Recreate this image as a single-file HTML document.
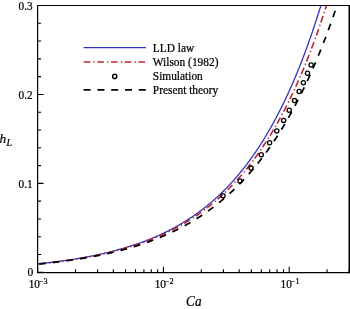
<!DOCTYPE html>
<html><head><meta charset="utf-8"><style>html,body{margin:0;padding:0;background:#fff;overflow:hidden}svg{display:block;will-change:transform}</style></head>
<body><svg width="350" height="309" viewBox="0 0 350 309">
<rect width="350" height="309" fill="#fff"/>
<g fill="none" stroke-linecap="butt">
<path d="M37.60,263.89 L38.38,263.81 L39.16,263.73 L39.94,263.64 L40.72,263.56 L41.50,263.48 L42.27,263.39 L43.05,263.31 L43.83,263.22 L44.61,263.14 L45.39,263.05 L46.17,262.96 L46.95,262.87 L47.73,262.78 L48.51,262.69 L49.29,262.60 L50.06,262.50 L50.84,262.41 L51.62,262.32 L52.40,262.22 L53.18,262.13 L53.96,262.03 L54.74,261.93 L55.52,261.83 L56.30,261.73 L57.08,261.63 L57.86,261.53 L58.63,261.43 L59.41,261.32 L60.19,261.22 L60.97,261.11 L61.75,261.00 L62.53,260.90 L63.31,260.79 L64.09,260.68 L64.87,260.57 L65.65,260.45 L66.43,260.34 L67.20,260.23 L67.98,260.11 L68.76,259.99 L69.54,259.88 L70.32,259.76 L71.10,259.64 L71.88,259.52 L72.66,259.40 L73.44,259.27 L74.22,259.15 L74.99,259.02 L75.77,258.90 L76.55,258.77 L77.33,258.64 L78.11,258.51 L78.89,258.38 L79.67,258.24 L80.45,258.11 L81.23,257.97 L82.01,257.84 L82.79,257.70 L83.56,257.56 L84.34,257.42 L85.12,257.28 L85.90,257.13 L86.68,256.99 L87.46,256.84 L88.24,256.69 L89.02,256.54 L89.80,256.39 L90.58,256.24 L91.35,256.09 L92.13,255.93 L92.91,255.78 L93.69,255.62 L94.47,255.46 L95.25,255.30 L96.03,255.14 L96.81,254.97 L97.59,254.81 L98.37,254.64 L99.15,254.47 L99.92,254.30 L100.70,254.13 L101.48,253.96 L102.26,253.78 L103.04,253.60 L103.82,253.43 L104.60,253.24 L105.38,253.06 L106.16,252.88 L106.94,252.69 L107.71,252.51 L108.49,252.32 L109.27,252.13 L110.05,251.93 L110.83,251.74 L111.61,251.54 L112.39,251.34 L113.17,251.14 L113.95,250.94 L114.73,250.74 L115.51,250.53 L116.28,250.32 L117.06,250.11 L117.84,249.90 L118.62,249.69 L119.40,249.47 L120.18,249.25 L120.96,249.03 L121.74,248.81 L122.52,248.59 L123.30,248.36 L124.08,248.13 L124.85,247.90 L125.63,247.67 L126.41,247.43 L127.19,247.20 L127.97,246.96 L128.75,246.71 L129.53,246.47 L130.31,246.22 L131.09,245.97 L131.87,245.72 L132.64,245.47 L133.42,245.21 L134.20,244.95 L134.98,244.69 L135.76,244.43 L136.54,244.16 L137.32,243.89 L138.10,243.62 L138.88,243.35 L139.66,243.07 L140.44,242.79 L141.21,242.51 L141.99,242.23 L142.77,241.94 L143.55,241.65 L144.33,241.36 L145.11,241.06 L145.89,240.76 L146.67,240.46 L147.45,240.16 L148.23,239.85 L149.00,239.54 L149.78,239.23 L150.56,238.91 L151.34,238.59 L152.12,238.27 L152.90,237.95 L153.68,237.62 L154.46,237.29 L155.24,236.95 L156.02,236.61 L156.80,236.27 L157.57,235.93 L158.35,235.58 L159.13,235.23 L159.91,234.88 L160.69,234.52 L161.47,234.16 L162.25,233.79 L163.03,233.43 L163.81,233.06 L164.59,232.68 L165.36,232.30 L166.14,231.92 L166.92,231.53 L167.70,231.15 L168.48,230.75 L169.26,230.36 L170.04,229.95 L170.82,229.55 L171.60,229.14 L172.38,228.73 L173.16,228.31 L173.93,227.89 L174.71,227.47 L175.49,227.04 L176.27,226.61 L177.05,226.17 L177.83,225.73 L178.61,225.29 L179.39,224.84 L180.17,224.38 L180.95,223.93 L181.73,223.46 L182.50,223.00 L183.28,222.53 L184.06,222.05 L184.84,221.57 L185.62,221.09 L186.40,220.60 L187.18,220.10 L187.96,219.61 L188.74,219.10 L189.52,218.59 L190.29,218.08 L191.07,217.56 L191.85,217.04 L192.63,216.51 L193.41,215.98 L194.19,215.44 L194.97,214.90 L195.75,214.35 L196.53,213.80 L197.31,213.24 L198.09,212.67 L198.86,212.10 L199.64,211.53 L200.42,210.95 L201.20,210.36 L201.98,209.77 L202.76,209.17 L203.54,208.57 L204.32,207.96 L205.10,207.35 L205.88,206.73 L206.65,206.10 L207.43,205.47 L208.21,204.83 L208.99,204.19 L209.77,203.54 L210.55,202.88 L211.33,202.22 L212.11,201.55 L212.89,200.87 L213.67,200.19 L214.45,199.50 L215.22,198.80 L216.00,198.10 L216.78,197.39 L217.56,196.68 L218.34,195.96 L219.12,195.23 L219.90,194.49 L220.68,193.75 L221.46,193.00 L222.24,192.24 L223.02,191.47 L223.79,190.70 L224.57,189.92 L225.35,189.14 L226.13,188.34 L226.91,187.54 L227.69,186.73 L228.47,185.91 L229.25,185.09 L230.03,184.26 L230.81,183.41 L231.58,182.57 L232.36,181.71 L233.14,180.84 L233.92,179.97 L234.70,179.09 L235.48,178.20 L236.26,177.30 L237.04,176.39 L237.82,175.47 L238.60,174.55 L239.38,173.62 L240.15,172.67 L240.93,171.72 L241.71,170.76 L242.49,169.79 L243.27,168.81 L244.05,167.82 L244.83,166.83 L245.61,165.82 L246.39,164.80 L247.17,163.77 L247.94,162.74 L248.72,161.69 L249.50,160.63 L250.28,159.57 L251.06,158.49 L251.84,157.40 L252.62,156.31 L253.40,155.20 L254.18,154.08 L254.96,152.95 L255.74,151.81 L256.51,150.66 L257.29,149.50 L258.07,148.33 L258.85,147.14 L259.63,145.95 L260.41,144.74 L261.19,143.52 L261.97,142.29 L262.75,141.05 L263.53,139.80 L264.30,138.53 L265.08,137.25 L265.86,135.96 L266.64,134.66 L267.42,133.35 L268.20,132.02 L268.98,130.68 L269.76,129.33 L270.54,127.96 L271.32,126.58 L272.10,125.19 L272.87,123.78 L273.65,122.37 L274.43,120.93 L275.21,119.49 L275.99,118.03 L276.77,116.55 L277.55,115.07 L278.33,113.56 L279.11,112.05 L279.89,110.52 L280.67,108.97 L281.44,107.41 L282.22,105.84 L283.00,104.25 L283.78,102.64 L284.56,101.02 L285.34,99.39 L286.12,97.73 L286.90,96.07 L287.68,94.38 L288.46,92.68 L289.23,90.97 L290.01,89.24 L290.79,87.49 L291.57,85.72 L292.35,83.94 L293.13,82.14 L293.91,80.33 L294.69,78.49 L295.47,76.64 L296.25,74.77 L297.03,72.88 L297.80,70.98 L298.58,69.06 L299.36,67.12 L300.14,65.16 L300.92,63.18 L301.70,61.18 L302.48,59.16 L303.26,57.13 L304.04,55.07 L304.82,53.00 L305.59,50.90 L306.37,48.79 L307.15,46.65 L307.93,44.50 L308.71,42.32 L309.49,40.13 L310.27,37.91 L311.05,35.67 L311.83,33.41 L312.61,31.13 L313.39,28.82 L314.16,26.50 L314.94,24.15 L315.72,21.78 L316.50,19.39 L317.28,16.97 L318.06,14.53 L318.84,12.07 L319.62,9.58 L320.40,7.08 L320.88,5.50" stroke="#3333bb" stroke-width="1.3"/>
<path d="M37.60,263.98 L38.38,263.90 L39.16,263.82 L39.94,263.74 L40.72,263.66 L41.50,263.58 L42.27,263.50 L43.05,263.41 L43.83,263.33 L44.61,263.24 L45.39,263.16 L46.17,263.07 L46.95,262.98 L47.73,262.89 L48.51,262.81 L49.29,262.72 L50.06,262.62 L50.84,262.53 L51.62,262.44 L52.40,262.35 L53.18,262.25 L53.96,262.16 L54.74,262.06 L55.52,261.96 L56.30,261.86 L57.08,261.77 L57.86,261.67 L58.63,261.56 L59.41,261.46 L60.19,261.36 L60.97,261.26 L61.75,261.15 L62.53,261.05 L63.31,260.94 L64.09,260.83 L64.87,260.72 L65.65,260.61 L66.43,260.50 L67.20,260.39 L67.98,260.28 L68.76,260.16 L69.54,260.05 L70.32,259.93 L71.10,259.81 L71.88,259.70 L72.66,259.58 L73.44,259.46 L74.22,259.33 L74.99,259.21 L75.77,259.09 L76.55,258.96 L77.33,258.84 L78.11,258.71 L78.89,258.58 L79.67,258.45 L80.45,258.32 L81.23,258.18 L82.01,258.05 L82.79,257.92 L83.56,257.78 L84.34,257.64 L85.12,257.50 L85.90,257.36 L86.68,257.22 L87.46,257.08 L88.24,256.93 L89.02,256.79 L89.80,256.64 L90.58,256.49 L91.35,256.34 L92.13,256.19 L92.91,256.04 L93.69,255.89 L94.47,255.73 L95.25,255.57 L96.03,255.41 L96.81,255.25 L97.59,255.09 L98.37,254.93 L99.15,254.77 L99.92,254.60 L100.70,254.43 L101.48,254.26 L102.26,254.09 L103.04,253.92 L103.82,253.75 L104.60,253.57 L105.38,253.39 L106.16,253.21 L106.94,253.03 L107.71,252.85 L108.49,252.67 L109.27,252.48 L110.05,252.29 L110.83,252.10 L111.61,251.91 L112.39,251.72 L113.17,251.52 L113.95,251.33 L114.73,251.13 L115.51,250.93 L116.28,250.73 L117.06,250.52 L117.84,250.32 L118.62,250.11 L119.40,249.90 L120.18,249.69 L120.96,249.47 L121.74,249.26 L122.52,249.04 L123.30,248.82 L124.08,248.60 L124.85,248.37 L125.63,248.15 L126.41,247.92 L127.19,247.69 L127.97,247.45 L128.75,247.22 L129.53,246.98 L130.31,246.74 L131.09,246.50 L131.87,246.26 L132.64,246.01 L133.42,245.76 L134.20,245.51 L134.98,245.26 L135.76,245.00 L136.54,244.74 L137.32,244.48 L138.10,244.22 L138.88,243.96 L139.66,243.69 L140.44,243.42 L141.21,243.15 L141.99,242.87 L142.77,242.59 L143.55,242.31 L144.33,242.03 L145.11,241.74 L145.89,241.45 L146.67,241.16 L147.45,240.87 L148.23,240.57 L149.00,240.27 L149.78,239.97 L150.56,239.66 L151.34,239.36 L152.12,239.04 L152.90,238.73 L153.68,238.41 L154.46,238.09 L155.24,237.77 L156.02,237.45 L156.80,237.12 L157.57,236.78 L158.35,236.45 L159.13,236.11 L159.91,235.77 L160.69,235.43 L161.47,235.08 L162.25,234.73 L163.03,234.37 L163.81,234.01 L164.59,233.65 L165.36,233.29 L166.14,232.92 L166.92,232.55 L167.70,232.17 L168.48,231.80 L169.26,231.41 L170.04,231.03 L170.82,230.64 L171.60,230.25 L172.38,229.85 L173.16,229.45 L173.93,229.05 L174.71,228.64 L175.49,228.23 L176.27,227.81 L177.05,227.39 L177.83,226.97 L178.61,226.54 L179.39,226.11 L180.17,225.68 L180.95,225.24 L181.73,224.80 L182.50,224.35 L183.28,223.90 L184.06,223.44 L184.84,222.98 L185.62,222.52 L186.40,222.05 L187.18,221.57 L187.96,221.10 L188.74,220.62 L189.52,220.13 L190.29,219.64 L191.07,219.14 L191.85,218.64 L192.63,218.14 L193.41,217.63 L194.19,217.11 L194.97,216.59 L195.75,216.07 L196.53,215.54 L197.31,215.01 L198.09,214.47 L198.86,213.93 L199.64,213.38 L200.42,212.82 L201.20,212.26 L201.98,211.70 L202.76,211.13 L203.54,210.56 L204.32,209.98 L205.10,209.39 L205.88,208.80 L206.65,208.20 L207.43,207.60 L208.21,206.99 L208.99,206.38 L209.77,205.76 L210.55,205.13 L211.33,204.50 L212.11,203.87 L212.89,203.22 L213.67,202.58 L214.45,201.92 L215.22,201.26 L216.00,200.59 L216.78,199.92 L217.56,199.24 L218.34,198.56 L219.12,197.87 L219.90,197.17 L220.68,196.46 L221.46,195.75 L222.24,195.03 L223.02,194.31 L223.79,193.58 L224.57,192.84 L225.35,192.09 L226.13,191.34 L226.91,190.58 L227.69,189.82 L228.47,189.04 L229.25,188.26 L230.03,187.48 L230.81,186.68 L231.58,185.88 L232.36,185.07 L233.14,184.25 L233.92,183.43 L234.70,182.60 L235.48,181.76 L236.26,180.91 L237.04,180.05 L237.82,179.19 L238.60,178.32 L239.38,177.44 L240.15,176.55 L240.93,175.66 L241.71,174.75 L242.49,173.84 L243.27,172.92 L244.05,171.99 L244.83,171.05 L245.61,170.10 L246.39,169.15 L247.17,168.18 L247.94,167.21 L248.72,166.23 L249.50,165.24 L250.28,164.24 L251.06,163.23 L251.84,162.21 L252.62,161.18 L253.40,160.14 L254.18,159.09 L254.96,158.04 L255.74,156.97 L256.51,155.89 L257.29,154.81 L258.07,153.71 L258.85,152.60 L259.63,151.48 L260.41,150.36 L261.19,149.22 L261.97,148.07 L262.75,146.91 L263.53,145.74 L264.30,144.56 L265.08,143.37 L265.86,142.17 L266.64,140.96 L267.42,139.73 L268.20,138.50 L268.98,137.25 L269.76,135.99 L270.54,134.72 L271.32,133.44 L272.10,132.15 L272.87,130.84 L273.65,129.52 L274.43,128.20 L275.21,126.85 L275.99,125.50 L276.77,124.13 L277.55,122.75 L278.33,121.36 L279.11,119.96 L279.89,118.54 L280.67,117.11 L281.44,115.67 L282.22,114.21 L283.00,112.74 L283.78,111.26 L284.56,109.76 L285.34,108.25 L286.12,106.73 L286.90,105.19 L287.68,103.64 L288.46,102.07 L289.23,100.49 L290.01,98.90 L290.79,97.29 L291.57,95.66 L292.35,94.02 L293.13,92.37 L293.91,90.70 L294.69,89.01 L295.47,87.31 L296.25,85.60 L297.03,83.87 L297.80,82.12 L298.58,80.36 L299.36,78.58 L300.14,76.78 L300.92,74.97 L301.70,73.14 L302.48,71.30 L303.26,69.44 L304.04,67.56 L304.82,65.66 L305.59,63.75 L306.37,61.82 L307.15,59.87 L307.93,57.91 L308.71,55.92 L309.49,53.92 L310.27,51.90 L311.05,49.86 L311.83,47.81 L312.61,45.73 L313.39,43.64 L314.16,41.53 L314.94,39.39 L315.72,37.24 L316.50,35.07 L317.28,32.88 L318.06,30.67 L318.84,28.44 L319.62,26.19 L320.40,23.92 L321.18,21.63 L321.95,19.32 L322.73,16.98 L323.51,14.63 L324.29,12.25 L325.07,9.86 L325.85,7.44 L326.47,5.50" stroke="#bc2630" stroke-width="1.6" stroke-dasharray="6.8 3.25 1.3 2.45" stroke-dashoffset="-1.4"/>
<path d="M37.60,264.17 L38.38,264.10 L39.16,264.02 L39.94,263.94 L40.72,263.86 L41.50,263.78 L42.27,263.70 L43.05,263.62 L43.83,263.54 L44.61,263.46 L45.39,263.38 L46.17,263.29 L46.95,263.21 L47.73,263.12 L48.51,263.04 L49.29,262.95 L50.06,262.86 L50.84,262.77 L51.62,262.68 L52.40,262.59 L53.18,262.50 L53.96,262.41 L54.74,262.32 L55.52,262.22 L56.30,262.13 L57.08,262.03 L57.86,261.94 L58.63,261.84 L59.41,261.74 L60.19,261.64 L60.97,261.54 L61.75,261.44 L62.53,261.34 L63.31,261.24 L64.09,261.14 L64.87,261.03 L65.65,260.93 L66.43,260.82 L67.20,260.71 L67.98,260.60 L68.76,260.49 L69.54,260.38 L70.32,260.27 L71.10,260.16 L71.88,260.05 L72.66,259.93 L73.44,259.82 L74.22,259.70 L74.99,259.58 L75.77,259.46 L76.55,259.34 L77.33,259.22 L78.11,259.10 L78.89,258.98 L79.67,258.85 L80.45,258.73 L81.23,258.60 L82.01,258.47 L82.79,258.34 L83.56,258.21 L84.34,258.08 L85.12,257.95 L85.90,257.81 L86.68,257.68 L87.46,257.54 L88.24,257.40 L89.02,257.26 L89.80,257.12 L90.58,256.98 L91.35,256.84 L92.13,256.70 L92.91,256.55 L93.69,256.40 L94.47,256.25 L95.25,256.11 L96.03,255.95 L96.81,255.80 L97.59,255.65 L98.37,255.49 L99.15,255.34 L99.92,255.18 L100.70,255.02 L101.48,254.86 L102.26,254.69 L103.04,254.53 L103.82,254.37 L104.60,254.20 L105.38,254.03 L106.16,253.86 L106.94,253.69 L107.71,253.51 L108.49,253.34 L109.27,253.16 L110.05,252.99 L110.83,252.81 L111.61,252.62 L112.39,252.44 L113.17,252.26 L113.95,252.07 L114.73,251.88 L115.51,251.69 L116.28,251.50 L117.06,251.31 L117.84,251.11 L118.62,250.92 L119.40,250.72 L120.18,250.52 L120.96,250.31 L121.74,250.11 L122.52,249.90 L123.30,249.70 L124.08,249.49 L124.85,249.27 L125.63,249.06 L126.41,248.85 L127.19,248.63 L127.97,248.41 L128.75,248.19 L129.53,247.96 L130.31,247.74 L131.09,247.51 L131.87,247.28 L132.64,247.05 L133.42,246.81 L134.20,246.58 L134.98,246.34 L135.76,246.10 L136.54,245.86 L137.32,245.61 L138.10,245.36 L138.88,245.11 L139.66,244.86 L140.44,244.61 L141.21,244.35 L141.99,244.09 L142.77,243.83 L143.55,243.57 L144.33,243.30 L145.11,243.03 L145.89,242.76 L146.67,242.49 L147.45,242.22 L148.23,241.94 L149.00,241.66 L149.78,241.37 L150.56,241.09 L151.34,240.80 L152.12,240.51 L152.90,240.22 L153.68,239.92 L154.46,239.62 L155.24,239.32 L156.02,239.01 L156.80,238.71 L157.57,238.40 L158.35,238.08 L159.13,237.77 L159.91,237.45 L160.69,237.13 L161.47,236.80 L162.25,236.48 L163.03,236.15 L163.81,235.81 L164.59,235.48 L165.36,235.14 L166.14,234.80 L166.92,234.45 L167.70,234.10 L168.48,233.75 L169.26,233.40 L170.04,233.04 L170.82,232.68 L171.60,232.31 L172.38,231.94 L173.16,231.57 L173.93,231.20 L174.71,230.82 L175.49,230.44 L176.27,230.05 L177.05,229.67 L177.83,229.27 L178.61,228.88 L179.39,228.48 L180.17,228.08 L180.95,227.67 L181.73,227.26 L182.50,226.85 L183.28,226.43 L184.06,226.01 L184.84,225.59 L185.62,225.16 L186.40,224.73 L187.18,224.29 L187.96,223.85 L188.74,223.41 L189.52,222.96 L190.29,222.51 L191.07,222.05 L191.85,221.59 L192.63,221.13 L193.41,220.66 L194.19,220.18 L194.97,219.71 L195.75,219.23 L196.53,218.74 L197.31,218.25 L198.09,217.76 L198.86,217.26 L199.64,216.75 L200.42,216.25 L201.20,215.73 L201.98,215.22 L202.76,214.70 L203.54,214.17 L204.32,213.64 L205.10,213.10 L205.88,212.56 L206.65,212.02 L207.43,211.47 L208.21,210.92 L208.99,210.36 L209.77,209.79 L210.55,209.22 L211.33,208.65 L212.11,208.07 L212.89,207.48 L213.67,206.89 L214.45,206.30 L215.22,205.69 L216.00,205.09 L216.78,204.48 L217.56,203.86 L218.34,203.24 L219.12,202.61 L219.90,201.98 L220.68,201.34 L221.46,200.69 L222.24,200.04 L223.02,199.38 L223.79,198.72 L224.57,198.05 L225.35,197.38 L226.13,196.70 L226.91,196.01 L227.69,195.32 L228.47,194.62 L229.25,193.92 L230.03,193.21 L230.81,192.49 L231.58,191.77 L232.36,191.04 L233.14,190.30 L233.92,189.56 L234.70,188.81 L235.48,188.06 L236.26,187.30 L237.04,186.53 L237.82,185.75 L238.60,184.97 L239.38,184.18 L240.15,183.38 L240.93,182.58 L241.71,181.77 L242.49,180.95 L243.27,180.13 L244.05,179.29 L244.83,178.46 L245.61,177.61 L246.39,176.75 L247.17,175.89 L247.94,175.02 L248.72,174.15 L249.50,173.26 L250.28,172.37 L251.06,171.47 L251.84,170.56 L252.62,169.65 L253.40,168.72 L254.18,167.79 L254.96,166.85 L255.74,165.90 L256.51,164.95 L257.29,163.98 L258.07,163.01 L258.85,162.03 L259.63,161.04 L260.41,160.04 L261.19,159.03 L261.97,158.01 L262.75,156.99 L263.53,155.96 L264.30,154.91 L265.08,153.86 L265.86,152.80 L266.64,151.73 L267.42,150.65 L268.20,149.56 L268.98,148.46 L269.76,147.35 L270.54,146.24 L271.32,145.11 L272.10,143.97 L272.87,142.82 L273.65,141.67 L274.43,140.50 L275.21,139.32 L275.99,138.14 L276.77,136.94 L277.55,135.73 L278.33,134.51 L279.11,133.28 L279.89,132.04 L280.67,130.79 L281.44,129.53 L282.22,128.26 L283.00,126.98 L283.78,125.69 L284.56,124.38 L285.34,123.07 L286.12,121.74 L286.90,120.40 L287.68,119.05 L288.46,117.69 L289.23,116.31 L290.01,114.93 L290.79,113.53 L291.57,112.12 L292.35,110.70 L293.13,109.27 L293.91,107.82 L294.69,106.37 L295.47,104.90 L296.25,103.41 L297.03,101.92 L297.80,100.41 L298.58,98.89 L299.36,97.35 L300.14,95.81 L300.92,94.25 L301.70,92.67 L302.48,91.09 L303.26,89.49 L304.04,87.87 L304.82,86.24 L305.59,84.60 L306.37,82.95 L307.15,81.28 L307.93,79.59 L308.71,77.90 L309.49,76.18 L310.27,74.46 L311.05,72.72 L311.83,70.96 L312.61,69.19 L313.39,67.40 L314.16,65.60 L314.94,63.79 L315.72,61.95 L316.50,60.11 L317.28,58.24 L318.06,56.37 L318.84,54.47 L319.62,52.56 L320.40,50.64 L321.18,48.69 L321.95,46.73 L322.73,44.76 L323.51,42.77 L324.29,40.76 L325.07,38.73 L325.85,36.69 L326.63,34.63 L327.41,32.56 L328.19,30.46 L328.97,28.35 L329.75,26.22 L330.52,24.08 L331.30,21.91 L332.08,19.73 L332.86,17.53 L333.64,15.31 L334.42,13.07 L335.20,10.81 L335.98,8.54 L336.76,6.24 L337.01,5.50" stroke="#000" stroke-width="1.7" stroke-dasharray="6.7 7.085" stroke-dashoffset="-1.45"/>
</g>
<g fill="none" stroke="#000" stroke-width="1.3">
<circle cx="223" cy="195.7" r="2.1"/><circle cx="240" cy="181" r="2.1"/><circle cx="251.1" cy="168.1" r="2.1"/><circle cx="261.3" cy="154.7" r="2.1"/><circle cx="269.6" cy="142.8" r="2.1"/><circle cx="276.8" cy="131" r="2.1"/><circle cx="283.6" cy="120.4" r="2.1"/><circle cx="289.2" cy="110.2" r="2.1"/><circle cx="294.5" cy="100.6" r="2.1"/><circle cx="299.1" cy="91.5" r="2.1"/><circle cx="303.4" cy="82.8" r="2.1"/><circle cx="307.5" cy="73.3" r="2.1"/><circle cx="311.1" cy="65" r="2.1"/>
</g>
<path d="M37.60,272.7 V266.70 M75.47,272.7 V269.20 M97.62,272.7 V269.20 M113.34,272.7 V269.20 M125.53,272.7 V269.20 M135.49,272.7 V269.20 M143.91,272.7 V269.20 M151.21,272.7 V269.20 M157.64,272.7 V269.20 M163.40,272.7 V266.70 M201.27,272.7 V269.20 M223.42,272.7 V269.20 M239.14,272.7 V269.20 M251.33,272.7 V269.20 M261.29,272.7 V269.20 M269.71,272.7 V269.20 M277.01,272.7 V269.20 M283.44,272.7 V269.20 M289.20,272.7 V266.70 M327.07,272.7 V269.20 M349.22,272.7 V269.20 M37.6,272.30 H43.60 M37.6,254.51 H41.10 M37.6,236.73 H41.10 M37.6,218.94 H41.10 M37.6,201.15 H41.10 M37.6,183.37 H43.60 M37.6,165.58 H41.10 M37.6,147.79 H41.10 M37.6,130.01 H41.10 M37.6,112.22 H41.10 M37.6,94.43 H43.60 M37.6,76.65 H41.10 M37.6,58.86 H41.10 M37.6,41.07 H41.10 M37.6,23.29 H41.10 M37.6,5.50 H43.60" stroke="#000" stroke-width="1.1" fill="none"/>
<path d="M37.6,4.9 V273.3 M37.0,272.7 H350 M37.0,5.5 H350" stroke="#000" stroke-width="1.2" fill="none"/>
<path d="M349.25,4.9 V273.3" stroke="#000" stroke-width="1.5" fill="none"/>
<g font-family="'Liberation Serif', serif" font-size="11.3" fill="#000" stroke="#000" stroke-width="0.22">
<text transform="translate(32.7,10.0) scale(1,1.06)" text-anchor="end">0.3</text>
<text transform="translate(32.7,98.93333333333334) scale(1,1.06)" text-anchor="end">0.2</text>
<text transform="translate(32.7,187.86666666666667) scale(1,1.06)" text-anchor="end">0.1</text>
<text transform="translate(33.3,276.2) scale(1,1.06)" text-anchor="end" font-size="11.6">0</text>
<text transform="translate(28.7,287.9) scale(1,1.06)">10<tspan font-size="8.2" dy="-3.8" dx="-1.0">−3</tspan></text>
<text transform="translate(154.7,287.9) scale(1,1.06)">10<tspan font-size="8.2" dy="-3.8" dx="-1.0">−2</tspan></text>
<text transform="translate(280.5,287.9) scale(1,1.06)">10<tspan font-size="8.2" dy="-3.8" dx="-1.0">−1</tspan></text>
<text transform="translate(186.1,306.4) scale(1,1.1)" font-style="italic" font-size="13.2">Ca</text>
<text transform="translate(-0.5,142.7)" font-style="italic" font-size="13.4">h<tspan font-size="9.8" dy="3.4" dx="0.3">L</tspan></text>
</g>
<g fill="none">
<path d="M83.6,47.6 H146" stroke="#3333bb" stroke-width="1.3"/>
<path d="M83.6,62.0 H146" stroke="#bc2630" stroke-width="1.7" stroke-dasharray="6.6 3.25 1.3 2.55"/>
<circle cx="114.7" cy="76.4" r="2.1" stroke="#000" stroke-width="1.45"/>
<path d="M83.6,89.95 H146" stroke="#000" stroke-width="1.8" stroke-dasharray="7 6.8"/>
</g>
<g font-family="'Liberation Serif', serif" font-size="11.4" fill="#000" stroke="#000" stroke-width="0.22">
<text transform="translate(152.8,52.0) scale(1,1.12)">LLD law</text>
<text transform="translate(152.8,65.9) scale(1,1.12)">Wilson (1982)</text>
<text transform="translate(152.8,80.0) scale(1,1.12)">Simulation</text>
<text transform="translate(152.8,93.8) scale(1,1.12)">Present theory</text>
</g>
</svg></body></html>
